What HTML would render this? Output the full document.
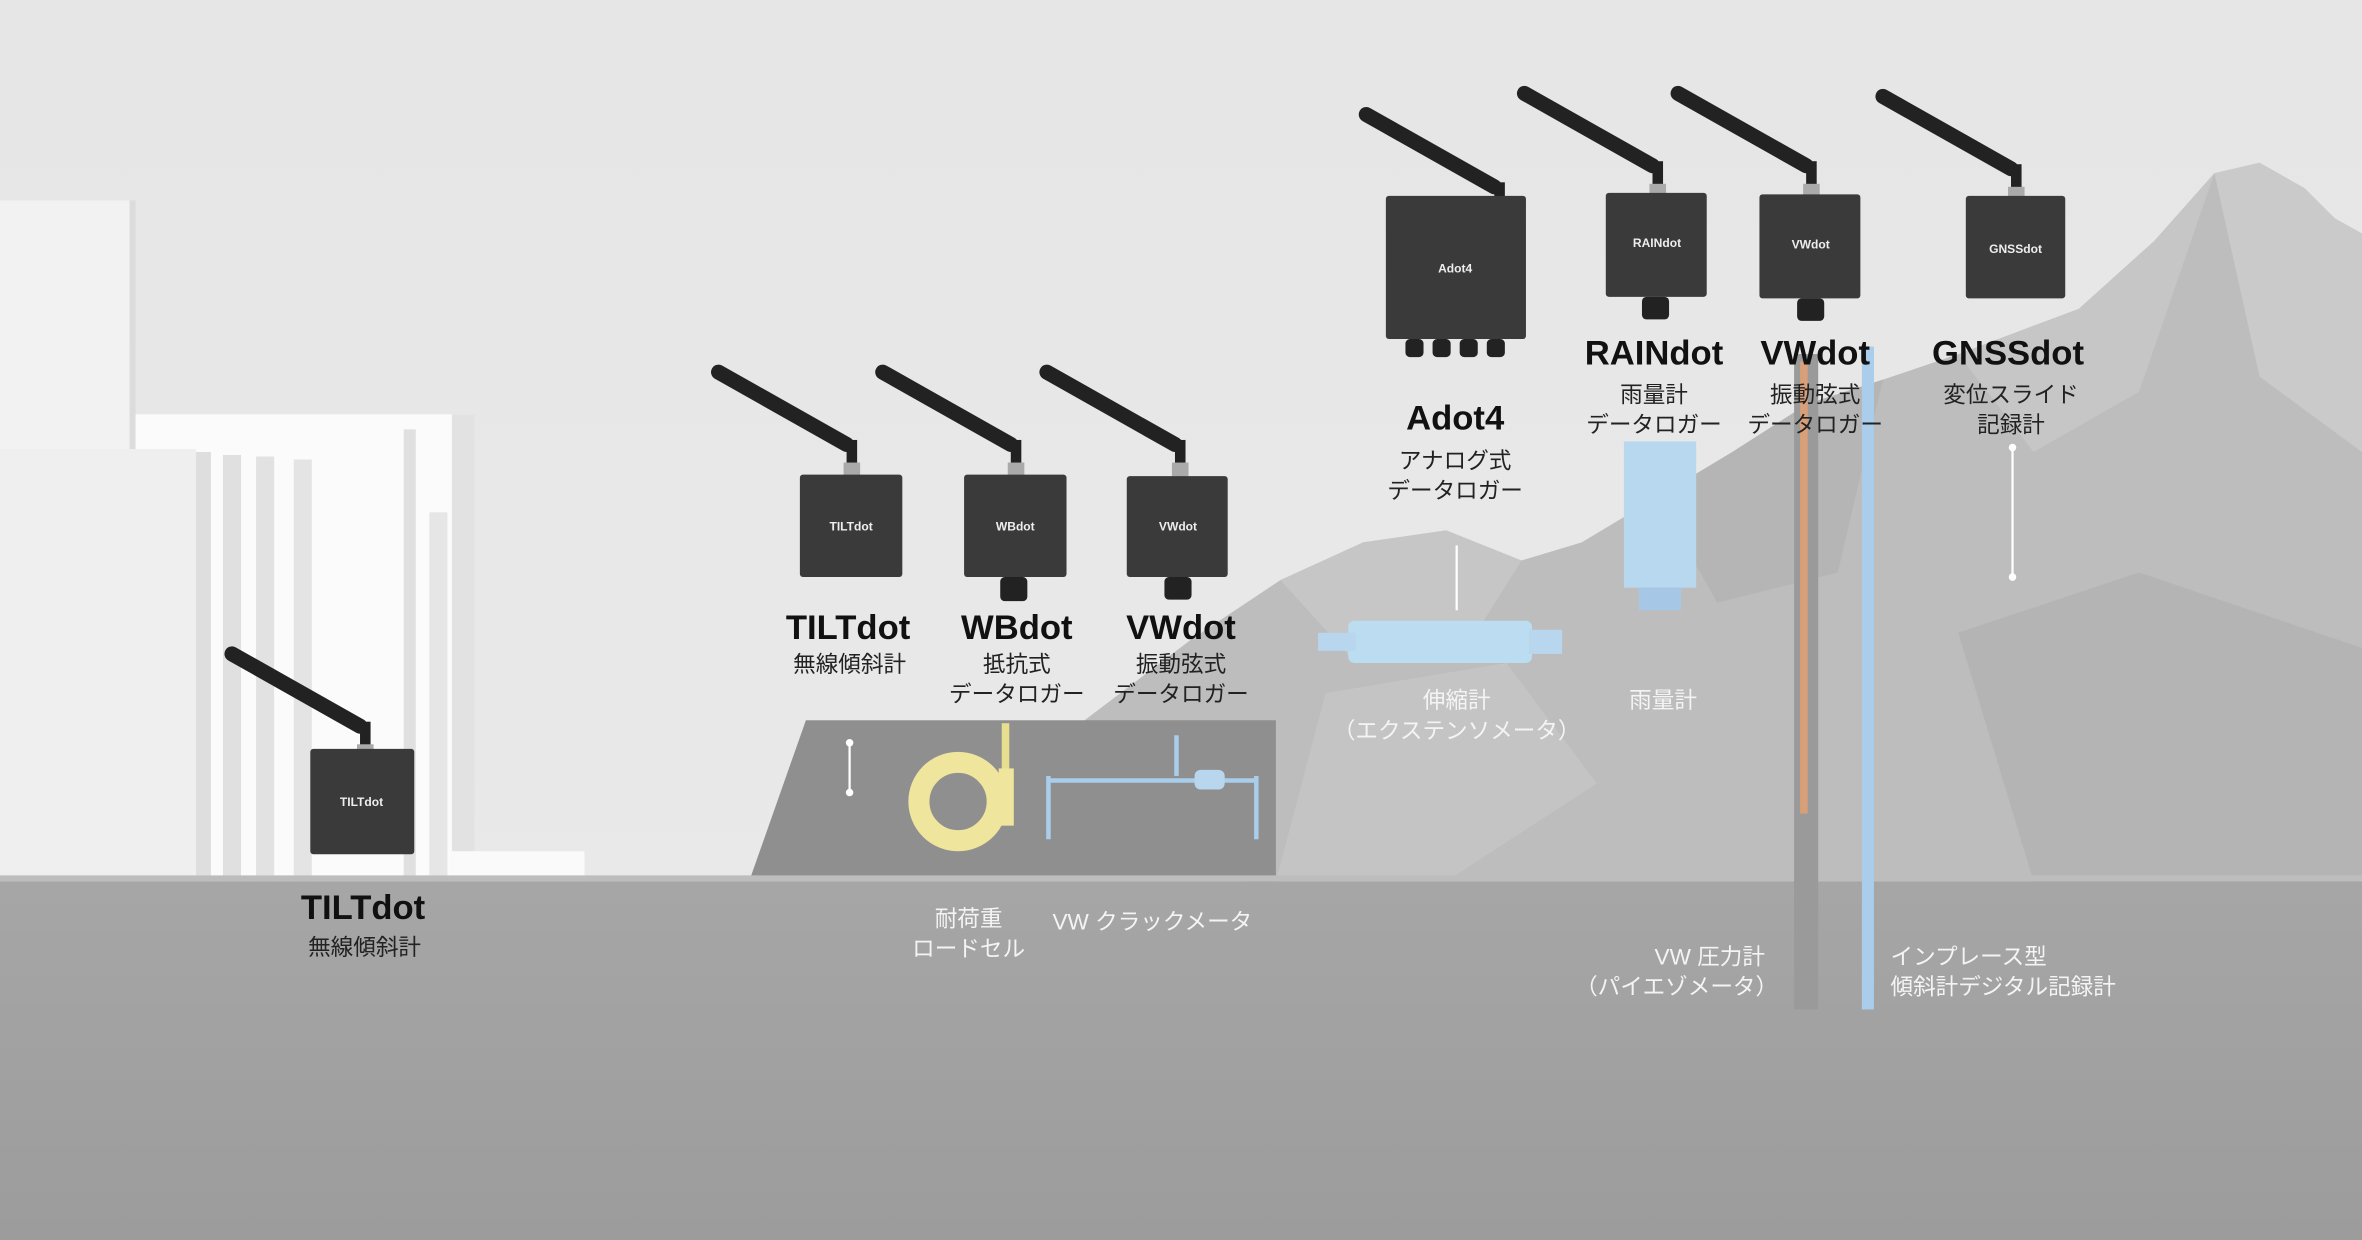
<!DOCTYPE html>
<html><head><meta charset="utf-8"><style>
html,body{margin:0;padding:0;background:#e8e8e8;}
svg{display:block;}
text{font-family:"Liberation Sans","Noto Sans CJK JP",sans-serif;}
.t{font-weight:bold;font-size:23px;fill:#111;text-anchor:middle;}
.s{font-size:15px;fill:#222;text-anchor:middle;}
.w{font-size:15px;fill:#f4f4f4;text-anchor:middle;}
.ws{font-size:15px;fill:#f4f4f4;text-anchor:start;}
</style></head><body>
<svg width="2362" height="1240" viewBox="0 0 1568 823" preserveAspectRatio="none" xmlns="http://www.w3.org/2000/svg">
<defs>
<linearGradient id="bg" x1="0" y1="0" x2="0" y2="1"><stop offset="0" stop-color="#e6e6e6"/><stop offset="1" stop-color="#eaeaea"/></linearGradient>
<linearGradient id="gr" x1="0" y1="0" x2="0" y2="1"><stop offset="0" stop-color="#a6a6a6"/><stop offset="1" stop-color="#9c9c9c"/></linearGradient>
<g id="ant"><path d="M0 0 L85 48" stroke="#222" stroke-width="10" stroke-linecap="round"/><rect x="85" y="45" width="7" height="16" fill="#222"/><rect x="83" y="60" width="11" height="10" fill="#aaa"/></g>
</defs>
<rect width="1568" height="823" fill="url(#bg)"/>
<!-- buildings -->
<rect x="0" y="133" width="88" height="452" fill="#f2f2f2"/>
<rect x="86" y="133" width="4" height="452" fill="#dcdcdc"/>
<rect x="90" y="275" width="225" height="310" fill="#fbfbfb"/>
<rect x="300" y="275" width="15" height="310" fill="#e2e2e2"/>
<rect x="0" y="298" width="130" height="287" fill="#efefef"/>
<rect x="130" y="300" width="10" height="285" fill="#dedede"/>
<rect x="148" y="302" width="12" height="283" fill="#e0e0e0"/>
<rect x="170" y="303" width="12" height="282" fill="#e2e2e2"/>
<rect x="195" y="305" width="12" height="280" fill="#e4e4e4"/>
<rect x="268" y="285" width="8" height="300" fill="#e0e0e0"/>
<rect x="285" y="340" width="12" height="245" fill="#e6e6e6"/>
<rect x="300" y="565" width="88" height="20" fill="#fafafa"/>
<!-- mountains -->
<polygon points="720,478 790,425 850,385 905,360 960,352 1010,372 1050,360 1100,330 1150,300 1200,268 1250,252 1300,235 1380,205 1430,160 1470,115 1500,108 1530,125 1550,145 1568,155 1568,585 847,585" fill="#bdbdbd"/>
<polygon points="850,385 905,360 960,352 1010,372 980,420 900,440" fill="#c6c6c6"/>
<polygon points="1300,235 1380,205 1430,160 1470,115 1420,260 1350,300" fill="#c6c6c6"/>
<polygon points="1470,115 1500,108 1530,125 1550,145 1568,155 1568,300 1500,250" fill="#cacaca"/>
<polygon points="1100,330 1150,300 1200,268 1250,252 1220,380 1140,400" fill="#b5b5b5"/>
<polygon points="1300,420 1420,380 1568,430 1568,585 1350,585" fill="#b4b4b4"/>
<polygon points="880,460 1000,440 1060,520 960,585 847,585" fill="#c4c4c4"/>
<!-- platform -->
<polygon points="498,583 535,478 847,478 847,585" fill="#8f8f8f"/>
<!-- ground -->
<rect x="0" y="585" width="1568" height="238" fill="url(#gr)"/>
<rect x="0" y="581" width="1568" height="4" fill="#bdbdbd"/>
<!-- underground pipes -->
<rect x="1191" y="235" width="16" height="435" fill="#9a9a9a"/>
<rect x="1195" y="240" width="5" height="300" fill="#e8a070" opacity="0.8"/>
<rect x="1236" y="230" width="8" height="440" fill="#a9cdea"/>
<!-- rain gauge -->
<rect x="1078" y="293" width="48" height="97" fill="#b8d8f0"/>
<rect x="1088" y="390" width="28" height="15" fill="#a6c8e6"/>
<!-- extensometer -->
<rect x="895" y="412" width="122" height="28" rx="4" fill="#bcdcf2"/>
<rect x="875" y="420" width="25" height="12" fill="#b8d6ee"/>
<rect x="1015" y="418" width="22" height="16" fill="#b8d6ee"/>
<!-- load cell -->
<circle cx="636" cy="532" r="26" fill="none" stroke="#efe59c" stroke-width="14"/>
<rect x="665" y="480" width="5" height="50" fill="#e8de90"/>
<rect x="663" y="510" width="10" height="38" fill="#efe59c"/>
<!-- crack meter -->
<g stroke="#a9cdea" stroke-width="3" fill="none"><line x1="696" y1="518" x2="834" y2="518"/><line x1="696" y1="515" x2="696" y2="557"/><line x1="834" y1="515" x2="834" y2="557"/><line x1="781" y1="488" x2="781" y2="515"/></g>
<rect x="793" y="511" width="20" height="13" rx="4" fill="#b8d6ee"/>
<!-- pointer lines -->
<g stroke="#fff" stroke-width="1.5"><line x1="564" y1="493" x2="564" y2="526"/><line x1="1336" y1="297" x2="1336" y2="383"/><line x1="967" y1="362" x2="967" y2="405"/></g>
<g fill="#fff"><circle cx="564" cy="493" r="2.5"/><circle cx="564" cy="526" r="2.5"/><circle cx="1336" cy="297" r="2.5"/><circle cx="1336" cy="383" r="2.5"/></g>
<!-- devices -->
<g fill="#3a3a3a">
<use href="#ant" x="154" y="434"/><rect x="206" y="497" width="69" height="70" rx="2"/>
<use href="#ant" x="477" y="247"/><rect x="531" y="315" width="68" height="68" rx="2"/>
<use href="#ant" x="586" y="247"/><rect x="640" y="315" width="68" height="68" rx="2"/><rect x="664" y="383" width="18" height="16" rx="3" fill="#222"/>
<use href="#ant" x="695" y="247"/><rect x="748" y="316" width="67" height="67" rx="2"/><rect x="773" y="383" width="18" height="15" rx="3" fill="#222"/>
<use href="#ant" x="907" y="76"/><rect x="920" y="130" width="93" height="95" rx="2"/>
<g fill="#222"><rect x="933" y="225" width="12" height="12" rx="3"/><rect x="951" y="225" width="12" height="12" rx="3"/><rect x="969" y="225" width="12" height="12" rx="3"/><rect x="987" y="225" width="12" height="12" rx="3"/></g>
<use href="#ant" x="1012" y="62"/><rect x="1066" y="128" width="67" height="69" rx="2"/><rect x="1090" y="197" width="18" height="15" rx="3" fill="#222"/>
<use href="#ant" x="1114" y="62"/><rect x="1168" y="129" width="67" height="69" rx="2"/><rect x="1193" y="198" width="18" height="15" rx="3" fill="#222"/>
<use href="#ant" x="1250" y="64"/><rect x="1305" y="130" width="66" height="68" rx="2"/>
</g>
<g font-size="8" fill="#eee" font-weight="bold" text-anchor="middle">
<text x="240" y="535">TILTdot</text><text x="565" y="352">TILTdot</text><text x="674" y="352">WBdot</text><text x="782" y="352">VWdot</text>
<text x="966" y="181">Adot4</text><text x="1100" y="164">RAINdot</text><text x="1202" y="165">VWdot</text><text x="1338" y="168">GNSSdot</text>
</g>
<!-- labels -->
<text class="t" x="241" y="610">TILTdot</text><text class="s" x="242" y="634">無線傾斜計</text>
<text class="t" x="563" y="424">TILTdot</text><text class="s" x="564" y="446">無線傾斜計</text>
<text class="t" x="675" y="424">WBdot</text><text class="s" x="675" y="446">抵抗式</text><text class="s" x="675" y="466">データロガー</text>
<text class="t" x="784" y="424">VWdot</text><text class="s" x="784" y="446">振動弦式</text><text class="s" x="784" y="466">データロガー</text>
<text class="t" x="966" y="285">Adot4</text><text class="s" x="966" y="311">アナログ式</text><text class="s" x="966" y="331">データロガー</text>
<text class="t" x="1098" y="242">RAINdot</text><text class="s" x="1098" y="267">雨量計</text><text class="s" x="1098" y="287">データロガー</text>
<text class="t" x="1205" y="242">VWdot</text><text class="s" x="1205" y="267">振動弦式</text><text class="s" x="1205" y="287">データロガー</text>
<text class="t" x="1333" y="242">GNSSdot</text><text class="s" x="1335" y="267">変位スライド</text><text class="s" x="1335" y="287">記録計</text>
<text class="w" x="643" y="615">耐荷重</text><text class="w" x="643" y="635">ロードセル</text>
<text class="w" x="765" y="617">VW クラックメータ</text>
<text class="w" x="967" y="470">伸縮計</text><text class="w" x="967" y="490">（エクステンソメータ）</text>
<text class="w" x="1104" y="470">雨量計</text>
<text class="w" x="1135" y="640">VW 圧力計</text><text class="w" x="1113" y="660">（パイエゾメータ）</text>
<text class="ws" x="1255" y="640">インプレース型</text><text class="ws" x="1255" y="660">傾斜計デジタル記録計</text>
</svg>
</body></html>
